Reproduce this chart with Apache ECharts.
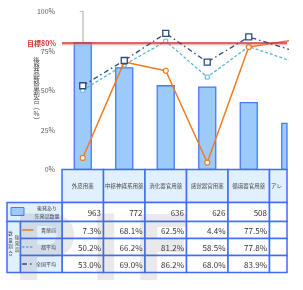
<!DOCTYPE html>
<html>
<head>
<meta charset="utf-8">
<script src="https://cdn.jsdelivr.net/npm/echarts@6/dist/echarts.min.js"></script>
<style>
  html, body { margin: 0; padding: 0; background: #fff; }
  #main { width: 303px; height: 290px; }
</style>
</head>
<body>
<div id="main"></div>
<script>
// 品目ごとのデータ
var categories = ['外皮用薬', '中枢神経系用薬', '消化器官用薬', '感覚器官用薬', '循環器官用薬', 'アレルギー用薬'];
var genericCounts = [963, 772, 636, 626, 508, 350];     // 後発あり先発品数量
var pharmacyRates = [7.3, 68.1, 62.5, 4.4, 77.5, 81.6]; // 貴薬局
var tokyoRates = [50.2, 66.2, 81.2, 58.5, 77.8, 68.9];  // 都平均
var nationalRates = [53.0, 69.0, 86.2, 68.0, 83.9, 75.8]; // 全国平均
var targetRate = 80;

var FONT = "'Noto Sans CJK JP', sans-serif";
var BORDER = '#3f6ef3';
var HEAD_BG = '#e1f0fd';
var ORANGE = '#ee7d22';
var LIGHT = '#59b7d4';
var NAVY = '#2b4b80';
var BAR_FILL = '#9ccbfb';
var BAR_LINE = '#4a78f5';

// 元の図は右端で切れている：1品目あたり41.5pxで、見えるのは287pxまで
var GRID_LEFT = 62, GRID_W = 225, BAND = 41.5;
var X_MAX = -0.5 + GRID_W / BAND;

function pairs(arr) {
  return arr.map(function (v, i) { return [i, v]; });
}

// 棒はグリッドで切り取って描く
function renderBar(params, api) {
  var p1 = api.coord([api.value(0), api.value(1)]);
  var p0 = api.coord([api.value(0), 0]);
  var bw = 17;
  var cs = params.coordSys;
  var shape = echarts.graphic.clipRectByRect(
    { x: p1[0] - bw / 2, y: p1[1], width: bw, height: p0[1] - p1[1] },
    { x: cs.x, y: cs.y, width: cs.width, height: cs.height }
  );
  if (!shape) return;
  return { type: 'rect', shape: shape,
    style: { fill: BAR_FILL, stroke: BAR_LINE, lineWidth: 1.3 } };
}

var chart = echarts.init(document.getElementById('main'));

var option = {
  animation: false,
  textStyle: { fontFamily: FONT },
  grid: { left: GRID_LEFT, top: 11.5, width: GRID_W, height: 158, outerBoundsMode: 'none' },
  xAxis: {
    type: 'value',
    min: -0.5,
    max: X_MAX,
    show: false,
    splitLine: { show: false }
  },
  yAxis: [{
    type: 'value',
    min: 0,
    max: 100,
    interval: 25,
    axisLine: { show: true, lineStyle: { color: '#d4d4d4', width: 2 } },
    axisTick: { show: true, length: 3, lineStyle: { color: '#bbb' } },
    axisLabel: { formatter: '{value}%', fontSize: 7, color: '#595959', margin: 7 },
    splitLine: { show: false }
  }, {
    type: 'value',
    min: 0,
    max: 1200,
    show: false,
    splitLine: { show: false }
  }],
  series: [{
    name: '後発あり先発品数量',
    type: 'custom',
    yAxisIndex: 1,
    renderItem: renderBar,
    encode: { x: 0, y: 1 },
    data: pairs(genericCounts)
  }, {
    name: '貴薬局',
    type: 'line',
    data: pairs(pharmacyRates),
    symbol: 'circle',
    symbolSize: 5,
    z: 4,
    lineStyle: { color: ORANGE, width: 1.5 },
    itemStyle: { color: '#fff', borderColor: ORANGE, borderWidth: 1.2 },
    markLine: {
      silent: true,
      symbol: 'none',
      data: [{ yAxis: targetRate }],
      lineStyle: {
        color: '#d5363a', width: 1.5, type: 'solid',
        shadowColor: 'rgba(235,120,120,0.6)', shadowOffsetY: 1.5, shadowBlur: 1
      },
      label: {
        position: 'start',
        formatter: '目標' + targetRate + '%',
        color: '#d5363a',
        fontSize: 7,
        fontWeight: 'bold',
        distance: 6
      }
    }
  }, {
    name: '都平均',
    type: 'line',
    data: pairs(tokyoRates),
    symbol: 'rect',
    symbolSize: 4,
    z: 3,
    lineStyle: { color: LIGHT, width: 1.3, type: [3, 2] },
    itemStyle: { color: '#fff', borderColor: LIGHT, borderWidth: 1 }
  }, {
    name: '全国平均',
    type: 'line',
    data: pairs(nationalRates),
    symbol: 'rect',
    symbolSize: 6,
    z: 5,
    lineStyle: { color: NAVY, width: 1.3, type: [5, 3, 1.5, 3] },
    itemStyle: { color: '#fff', borderColor: NAVY, borderWidth: 1.3 }
  }]
};
chart.setOption(option);

// 文字幅を測る
var measureCtx = document.createElement('canvas').getContext('2d');
function textWidth(text, size) {
  measureCtx.font = size + 'px ' + FONT;
  return measureCtx.measureText(text).width;
}

function txt(x, y, text, size, align, color) {
  return { type: 'text', x: x, y: y, z: 20, style: {
    text: text, font: size + 'px ' + FONT, fill: color || '#333',
    align: align, textAlign: align, verticalAlign: 'middle', textVerticalAlign: 'middle'
  } };
}
// 右端で切れる文字
function clippedTxt(x0, x1, y, text, size, color, clipRight) {
  if (x1 <= clipRight) return txt(x0, y, text, size, 'left', color);
  if (x0 >= clipRight) return null;
  var t = txt(x0, y, text, size, 'left', color);
  t.style.width = clipRight - x0;
  t.style.overflow = 'truncate';
  t.style.ellipsis = '';
  return t;
}
function cell(x, y, w, h, fill) {
  return { type: 'rect', z: 10, shape: { x: x, y: y, width: w, height: h },
    style: { fill: fill, stroke: BORDER, lineWidth: 1.5 } };
}
function seg(x1, x2, y, color, dash) {
  return { type: 'line', z: 20, shape: { x1: x1, y1: y, x2: x2, y2: y },
    style: { stroke: color, lineWidth: 1.5, lineDash: dash || null } };
}

function buildTable() {
  var c0 = chart.convertToPixel({ xAxisIndex: 0 }, 0);
  var band = chart.convertToPixel({ xAxisIndex: 0 }, 1) - c0;
  var clipRight = chart.convertToPixel({ xAxisIndex: 0 }, X_MAX);
  var top = chart.convertToPixel({ yAxisIndex: 0 }, 0);
  var mid = chart.convertToPixel({ yAxisIndex: 0 }, 50);
  var headH = 33, rowH = [19, 17, 17, 17];
  var els = [];

  // 縦書きの軸タイトル
  var title = '後発品数量割合︵%︶'.split('');
  title.forEach(function (ch, k) {
    els.push(txt(36.5, mid + (k - (title.length - 1) / 2) * 6.6, ch, 6.5, 'center', '#444'));
  });

  var rows = [
    genericCounts.map(function (v) { return String(v); }),
    pharmacyRates.map(function (v) { return v.toFixed(1) + '%'; }),
    tokyoRates.map(function (v) { return v.toFixed(1) + '%'; }),
    nationalRates.map(function (v) { return v.toFixed(1) + '%'; })
  ];

  categories.forEach(function (name, i) {
    var cx = chart.convertToPixel({ xAxisIndex: 0 }, i);
    var x = cx - band / 2;
    if (x >= clipRight) return;
    var w = Math.min(band, clipRight - x);
    els.push(cell(x, top, w, headH, HEAD_BG));
    var nw = textWidth(name, 5.5);
    var h1 = clippedTxt(cx - nw / 2, cx + nw / 2, top + headH / 2, name, 5.5, '#444', clipRight);
    if (h1) els.push(h1);
    var y = top + headH;
    rows.forEach(function (r, j) {
      els.push(cell(x, y, w, rowH[j], '#fff'));
      var rx = x + band - 2.5;
      var vw = textWidth(r[i], 8);
      var t = clippedTxt(rx - vw, rx, y + rowH[j] / 2 + 0.5, r[i], 8, '#333', clipRight);
      if (t) els.push(t);
      y += rowH[j];
    });
  });

  // 左側の見出し
  var left = 7, right = c0 - band / 2;
  var y1 = top + headH;
  els.push(cell(left, y1, right - left, rowH[0], HEAD_BG));
  els.push({ type: 'rect', z: 20, shape: { x: 11, y: y1 + 5, width: 13, height: 8 },
    style: { fill: BAR_FILL, stroke: BAR_LINE, lineWidth: 1 } });
  els.push(txt(47, y1 + 5.5, '後発あり', 5, 'center', '#444'));
  els.push(txt(47, y1 + 13.5, '先発品数量', 5, 'center', '#444'));

  var y2 = y1 + rowH[0];
  var subH = rowH[1] + rowH[2] + rowH[3];
  els.push(cell(left, y2, 13.5, subH, HEAD_BG));
  '数量割合'.split('').forEach(function (ch, k) {
    els.push(txt(10.5, y2 + 12 + k * 6.5, ch, 4.5, 'center', '#444'));
  });
  '後発品'.split('').forEach(function (ch, k) {
    els.push(txt(17, y2 + 16 + k * 6, ch, 4.5, 'center', '#444'));
  });

  var legends = [
    ['貴薬局', ORANGE, null],
    ['都平均', LIGHT, [2.5, 1.5]],
    ['全国平均', NAVY, [5, 3, 1.5, 3]]
  ];
  var yy = y2;
  legends.forEach(function (lg, k) {
    var h = rowH[k + 1];
    els.push(cell(left + 13.5, yy, right - left - 13.5, h, HEAD_BG));
    els.push(seg(22, 33.5, yy + h / 2, lg[1], lg[2]));
    els.push(txt(56, yy + h / 2, lg[0], 5, 'right', '#444'));
    yy += h;
  });

  // 透かし文字
  var wm = [['P', 12], ['I', 89], ['F', 132]];
  wm.forEach(function (w) {
    els.push({ type: 'text', x: w[1], y: 302, z: 50, silent: true,
      style: { text: w[0], font: 'bold 90px DejaVu Sans', fill: 'rgba(110,110,110,0.15)',
        align: 'left', textAlign: 'left', verticalAlign: 'bottom', textVerticalAlign: 'bottom',
        shadowColor: 'rgba(110,110,110,0.2)', shadowBlur: 5 } });
  });

  chart.setOption({ graphic: { elements: els } });
}
buildTable();
</script>
</body>
</html>
